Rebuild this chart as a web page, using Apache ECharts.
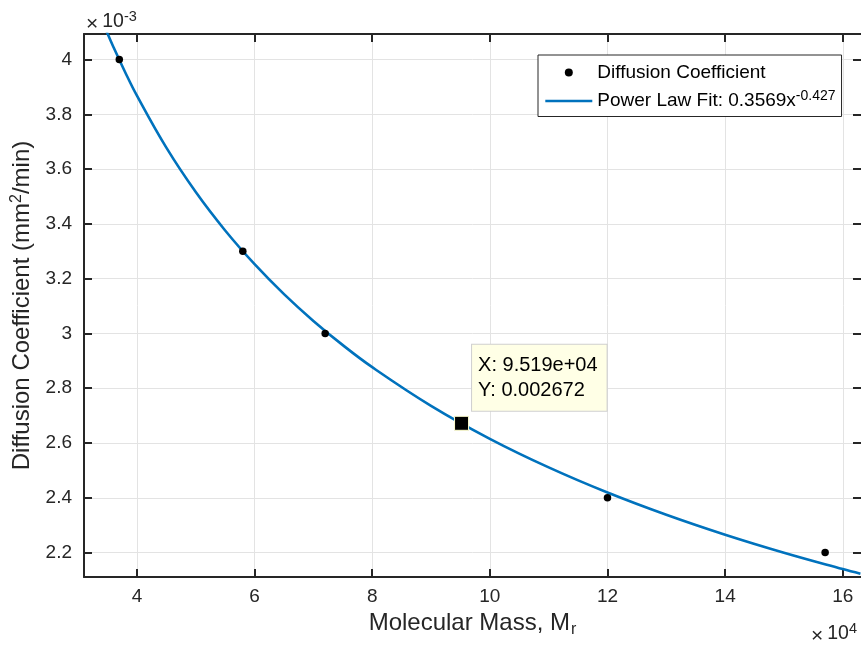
<!DOCTYPE html>
<html>
<head>
<meta charset="utf-8">
<script src="https://cdn.jsdelivr.net/npm/echarts@6/dist/echarts.min.js"></script>
<style>
html,body{margin:0;padding:0;background:#fff;}
#chart{width:861px;height:651px;}
</style>
</head>
<body>
<div id="chart"></div>
<script>
// ---- data ----
const massData = [37000, 58000, 72000, 120000, 157000];
const diffData = [0.0040, 0.0033, 0.0030, 0.0024, 0.0022];
const fitMass = [33000, 35000, 36000, 38000, 40000, 45000, 50000, 55000, 60000, 65000, 70000, 75000, 80000, 90000, 100000, 110000, 120000, 130000, 140000, 150000, 160000, 163000];
const fitDiff = [0.0041989, 0.0040947, 0.0040457, 0.0039535, 0.0038679, 0.0036780, 0.0035161, 0.0033759, 0.0032530, 0.0031437, 0.0030458, 0.0029573, 0.0028769, 0.0027358, 0.0026155, 0.0025112, 0.0024195, 0.0023383, 0.0022654, 0.0021997, 0.0021399, 0.0021229];
const tipX = 95190;
const tipY = 0.002672;
const xTicks = [40000, 60000, 80000, 100000, 120000, 140000, 160000];
const yTicks = [0.0022, 0.0024, 0.0026, 0.0028, 0.0030, 0.0032, 0.0034, 0.0036, 0.0038, 0.0040];
const xRange = [31000, 163100];
const yRange = [0.002111, 0.004093];
const seriesNames = ['Diffusion Coefficient', 'Power Law Fit: 0.3569x^-0.427'];

const AX = '#262626';
const FONT = '"Liberation Sans", Arial, Helvetica, sans-serif';

const chart = echarts.init(document.getElementById('chart'), null, {renderer: 'canvas'});

function xFmt(v) { return String(parseFloat((v / 1e4).toFixed(3))); }
function yFmt(v) { return String(parseFloat((v * 1e3).toFixed(3))); }

const baseX = {
  type: 'value', min: xRange[0], max: xRange[1],
  axisLine: {show: true, onZero: false, lineStyle: {color: AX, width: 2}},
  axisTick: {show: true, inside: true, length: 8, customValues: xTicks, lineStyle: {color: AX, width: 2}},
};
const baseY = {
  type: 'value', min: yRange[0], max: yRange[1],
  axisLine: {show: true, onZero: false, lineStyle: {color: AX, width: 2}},
  axisTick: {show: true, inside: true, length: 8, customValues: yTicks, lineStyle: {color: AX, width: 2}},
};

const expRich = {
  x: {fontSize: 21, fontFamily: FONT, fill: AX, lineHeight: 26, padding: [4, 4, 0, 0]},
  b: {fontSize: 19.5, fontFamily: FONT, fill: AX, lineHeight: 26},
  s: {fontSize: 14.5, fontFamily: FONT, fill: AX, verticalAlign: 'top', lineHeight: 12}
};

const option = {
  animation: false,
  backgroundColor: '#fff',
  textStyle: {fontFamily: FONT},
  grid: {left: 84, top: 34, width: 778, height: 543, containLabel: false},
  xAxis: [
    Object.assign({}, baseX, {
      position: 'bottom',
      axisLabel: {show: true, customValues: xTicks, formatter: xFmt, color: AX, fontSize: 19, fontFamily: FONT, margin: 10},
      splitLine: {show: true, lineStyle: {color: '#e3e3e3', width: 1}},
      name: '{a|Molecular Mass, M}{b|r}',
      nameLocation: 'middle', nameGap: 29,
      nameTextStyle: {
        color: AX, fontFamily: FONT,
        rich: {
          a: {fontSize: 24, fontFamily: FONT, color: AX, lineHeight: 30},
          b: {fontSize: 16, fontFamily: FONT, color: AX, verticalAlign: 'bottom', lineHeight: 16, padding: [0,0,0,1]}
        }
      }
    }),
    Object.assign({}, baseX, {
      position: 'top',
      axisLabel: {show: false},
      splitLine: {show: false}
    })
  ],
  yAxis: [
    Object.assign({}, baseY, {
      position: 'left',
      axisLabel: {show: true, customValues: yTicks, formatter: yFmt, color: AX, fontSize: 19, fontFamily: FONT, margin: 12},
      splitLine: {show: true, lineStyle: {color: '#e3e3e3', width: 1}},
      name: '{a|Diffusion Coefficient (mm}{s|2}{a|/min)}',
      nameLocation: 'middle', nameGap: 43, nameRotate: 90,
      nameTextStyle: {
        color: AX, fontFamily: FONT,
        rich: {
          a: {fontSize: 24, fontFamily: FONT, color: AX, lineHeight: 28},
          s: {fontSize: 16, fontFamily: FONT, color: AX, verticalAlign: 'top', lineHeight: 16}
        }
      }
    }),
    Object.assign({}, baseY, {
      position: 'right',
      axisLine: {show: false},
      axisLabel: {show: false},
      splitLine: {show: false}
    })
  ],
  legend: {
    show: true,
    orient: 'vertical',
    left: 538, top: 55,
    padding: [8, 6, 6, 6],
    itemWidth: 47, itemHeight: 8, itemGap: 7,
    backgroundColor: '#fff',
    borderColor: AX, borderWidth: 1, borderRadius: 0,
    data: [
      {name: seriesNames[0], icon: 'circle', itemStyle: {color: '#000', opacity: 1}},
      {name: seriesNames[1], itemStyle: {opacity: 0}, lineStyle: {color: '#0072BD', width: 2.6, opacity: 1}}
    ],
    formatter: function (name) {
      if (name === seriesNames[1]) return '{t|Power Law Fit: 0.3569x}{s|-0.427}';
      return '{t|' + name + '}';
    },
    textStyle: {
      color: '#000', fontFamily: FONT, fontSize: 19,
      rich: {
        t: {fontSize: 19, fontFamily: FONT, color: '#000', lineHeight: 24},
        s: {fontSize: 14, fontFamily: FONT, color: '#000', verticalAlign: 'top', lineHeight: 14}
      }
    }
  },
  series: [
    {
      name: seriesNames[0],
      type: 'scatter',
      xAxisIndex: 0, yAxisIndex: 0,
      data: massData.map((m, i) => [m, diffData[i]]),
      symbol: 'circle', symbolSize: 7.5,
      itemStyle: {color: '#000', opacity: 1},
      z: 3
    },
    {
      name: seriesNames[1],
      type: 'line',
      xAxisIndex: 0, yAxisIndex: 0,
      data: fitMass.map((m, i) => [m, fitDiff[i]]),
      showSymbol: false, symbol: 'none',
      smooth: 0.4,
      clip: true,
      lineStyle: {color: '#0072BD', width: 2.6},
      itemStyle: {color: '#0072BD'},
      z: 2
    },
    {
      name: 'datatip',
      type: 'scatter',
      xAxisIndex: 0, yAxisIndex: 0,
      data: [[tipX, tipY]],
      symbol: 'rect', symbolSize: 14,
      itemStyle: {color: '#000', opacity: 1, borderColor: '#ffffd0', borderWidth: 1},
      label: {
        show: true,
        position: [18, -71],
        formatter: 'X: 9.519e+04\nY: 0.002672',
        color: '#000', fontFamily: FONT, fontSize: 20, lineHeight: 25,
        backgroundColor: '#ffffe6',
        borderColor: '#cfcfcf', borderWidth: 1,
        padding: [8, 9, 8, 6]
      },
      z: 5
    }
  ],
  graphic: [
    {
      type: 'text', left: 86, top: 9, z: 10,
      style: {text: '{x|×}{b|10}{s|-3}', rich: expRich}
    },
    {
      type: 'text', right: 4, top: 621, z: 10,
      style: {text: '{x|×}{b|10}{s|4}', rich: expRich}
    }
  ]
};
chart.setOption(option);
</script>
</body>
</html>
